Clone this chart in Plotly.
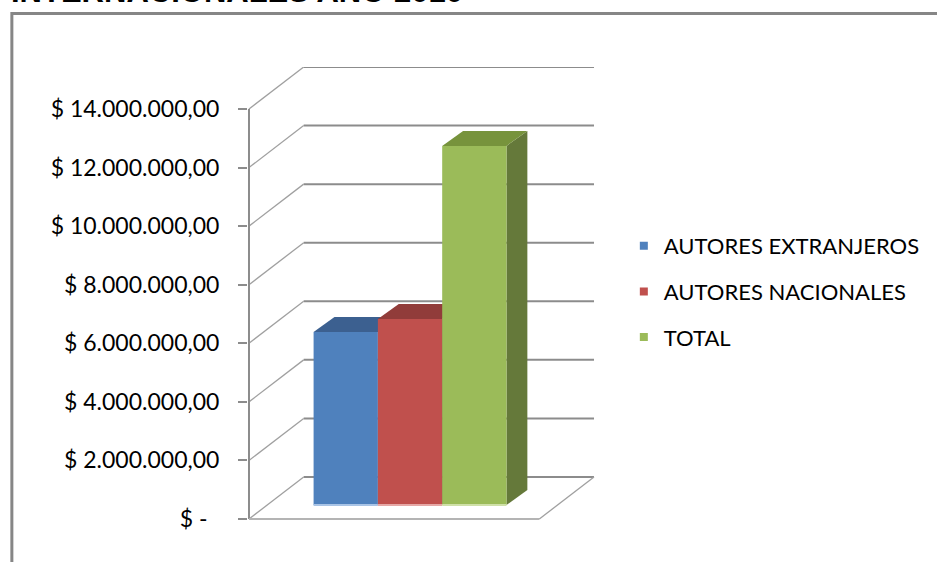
import plotly.graph_objects as go

# ---------------- data ----------------
series = ["AUTORES EXTRANJEROS", "AUTORES NACIONALES", "TOTAL"]
values = [5910000, 6350000, 12260000]
tick_values = [0, 2000000, 4000000, 6000000, 8000000, 10000000, 12000000, 14000000]
tick_labels = ["$ -\u00a0\u00a0", "$ 2.000.000,00", "$ 4.000.000,00", "$ 6.000.000,00",
               "$ 8.000.000,00", "$ 10.000.000,00", "$ 12.000.000,00", "$ 14.000.000,00"]
title_text = "INTERNACIONALES AÑO 2010"

# ---------------- style ----------------
front_colors = ["#4F81BD", "#C0504D", "#9BBB59"]
top_colors = ["#3C6090", "#913C3A", "#77933C"]
side_colors = ["#30507A", "#7A3331", "#65793A"]
base_colors = ["#A9C4E6", "#E6A8A6", "#CFE0A8"]
GRID = "#8C8C8C"
DIAG = "#A0A0A0"
FONT = "Lato"

W, H = 937, 562
ML, MR, MT, MB = 248, 340, 67, 41
# pixel geometry of the reference plot box
PX_ZERO, PX_14M = 519, 109
y_scale = (PX_ZERO - PX_14M) / 14000000.0          # px per value unit
x_scale = 64.67                                      # px per category unit
PX_CAT0 = 346.3                                      # centre of first bar
x0 = -(PX_CAT0 - ML) / x_scale
x1 = x0 + (W - ML - MR) / x_scale
y0 = -((H - MB) - PX_ZERO) / y_scale
y1 = (PX_ZERO - MT) / y_scale

AXIS_X = x0 + 1.0 / x_scale
WALL_DX = 55 / x_scale
WALL_DY = 42 / y_scale
FLOOR_RIGHT = AXIS_X + (541 - 249) / x_scale
BAR_BASE = 14 / y_scale
BAR_DX = 21 / x_scale
BAR_DY = 15 / y_scale
BAR_W = 1.0

fig = go.Figure()

shapes = []
# back wall gridlines + left wall diagonals
for t in tick_values:
    shapes.append(dict(type="line", xref="x", yref="y",
                       x0=AXIS_X + WALL_DX, y0=t + WALL_DY,
                       x1=FLOOR_RIGHT + WALL_DX, y1=t + WALL_DY,
                       line=dict(color=GRID, width=2), layer="below"))
    shapes.append(dict(type="line", xref="x", yref="y",
                       x0=AXIS_X, y0=t, x1=AXIS_X + WALL_DX, y1=t + WALL_DY,
                       line=dict(color=DIAG, width=1.3), layer="below"))
# front vertical axis line
shapes.append(dict(type="line", xref="x", yref="y", x0=AXIS_X, y0=0,
                   x1=AXIS_X, y1=tick_values[-1],
                   line=dict(color=GRID, width=2), layer="below"))
# floor front edge and right diagonal
shapes.append(dict(type="line", xref="x", yref="y", x0=AXIS_X, y0=0,
                   x1=FLOOR_RIGHT, y1=0, line=dict(color="#B4B4B4", width=2), layer="below"))
shapes.append(dict(type="line", xref="x", yref="y", x0=FLOOR_RIGHT, y0=0,
                   x1=FLOOR_RIGHT + WALL_DX, y1=WALL_DY,
                   line=dict(color=DIAG, width=1.3), layer="below"))

# 3D faces of the bars
for i, v in enumerate(values):
    xa, xb = i - BAR_W / 2, i + BAR_W / 2
    top = BAR_BASE + v
    side = (f"M {xb},{BAR_BASE} L {xb + BAR_DX},{BAR_BASE + BAR_DY} "
            f"L {xb + BAR_DX},{top + BAR_DY} L {xb},{top} Z")
    shapes.append(dict(type="path", xref="x", yref="y", path=side,
                       fillcolor=side_colors[i], line=dict(width=0), layer="below"))
for i, v in enumerate(values):
    xa, xb = i - BAR_W / 2, i + BAR_W / 2
    top = BAR_BASE + v
    topf = (f"M {xa},{top} L {xb},{top} L {xb + BAR_DX},{top + BAR_DY} "
            f"L {xa + BAR_DX},{top + BAR_DY} Z")
    shapes.append(dict(type="path", xref="x", yref="y", path=topf,
                       fillcolor=top_colors[i], line=dict(width=0), layer="below"))
for i, v in enumerate(values):
    xa, xb = i - BAR_W / 2, i + BAR_W / 2
    shapes.append(dict(type="line", xref="x", yref="y", x0=xa, y0=BAR_BASE,
                       x1=xb, y1=BAR_BASE, line=dict(color=base_colors[i], width=2),
                       layer="above"))

# chart area border (paper coordinates)
def px_to_paper_x(px):
    return (px - ML) / (W - ML - MR)

def px_to_paper_y(py):
    return ((H - MB) - py) / (H - MT - MB)

shapes.append(dict(type="rect", xref="paper", yref="paper",
                   x0=px_to_paper_x(10.5), y0=px_to_paper_y(13.5),
                   x1=px_to_paper_x(1000), y1=px_to_paper_y(700),
                   line=dict(color="#868686", width=3), fillcolor="rgba(0,0,0,0)",
                   layer="below"))

for i, (s, v) in enumerate(zip(series, values)):
    fig.add_trace(go.Bar(x=[i], y=[v], base=BAR_BASE, width=BAR_W, name=s,
                         marker=dict(color=front_colors[i], line=dict(width=0)),
                         showlegend=False))
for i, s in enumerate(series):
    fig.add_trace(go.Scatter(x=[None], y=[None], mode="markers", name=s,
                             legendgroup=s,
                             marker=dict(symbol="square", size=8, color=front_colors[i])))

fig.add_annotation(text="<b>" + title_text + "</b>", xref="paper", yref="paper",
                   x=px_to_paper_x(8), y=px_to_paper_y(11), xanchor="left", yanchor="bottom",
                   showarrow=False,
                   font=dict(family="Liberation Sans", size=31, color="#000000"))

fig.update_layout(
    width=W, height=H,
    margin=dict(l=ML, r=MR, t=MT, b=MB, pad=0),
    paper_bgcolor="white", plot_bgcolor="white",
    barmode="overlay",
    shapes=shapes,
    showlegend=True,
    legend=dict(x=px_to_paper_x(626), y=px_to_paper_y(225), xanchor="left", yanchor="top",
                font=dict(family=FONT, size=22, color="#000000"),
                tracegroupgap=14, bgcolor="rgba(0,0,0,0)"),
    xaxis=dict(range=[x0, x1], visible=False, fixedrange=True),
    yaxis=dict(range=[y0, y1], tickvals=tick_values, ticktext=tick_labels,
               showgrid=False, zeroline=False, showline=False,
               ticks="outside", ticklen=9, tickwidth=2, tickcolor=GRID,
               ticklabelstandoff=14,
               tickfont=dict(family=FONT, size=23, color="#000000"),
               fixedrange=True),
    font=dict(family=FONT),
)

fig.write_html("out.html", config={"displayModeBar": False},
               post_script="document.body.style.margin='0';document.body.style.overflow='hidden';")
